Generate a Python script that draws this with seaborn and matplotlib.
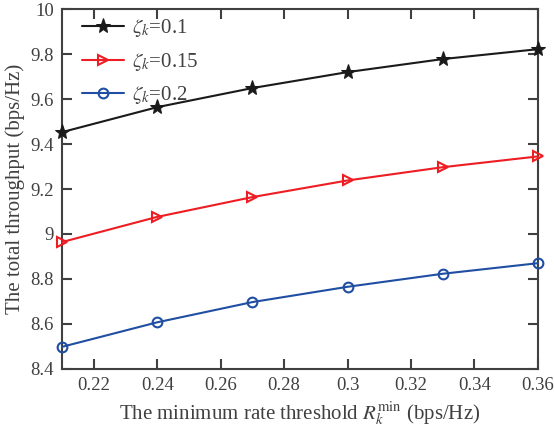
import matplotlib
matplotlib.use("Agg")
import matplotlib.pyplot as plt
import seaborn as sns
import pandas as pd

x_vals = [0.21, 0.24, 0.27, 0.30, 0.33, 0.36]
y_01 = [9.453, 9.564, 9.649, 9.720, 9.778, 9.822]
y_015 = [8.964, 9.076, 9.164, 9.238, 9.297, 9.345]
y_02 = [8.498, 8.607, 8.697, 8.765, 8.823, 8.870]
labels = [r"$\zeta_k$=0.1", r"$\zeta_k$=0.15", r"$\zeta_k$=0.2"]

sns.set_theme(style="ticks")
plt.rcParams["font.family"] = ["Liberation Serif", "DejaVu Serif"]
plt.rcParams["mathtext.fontset"] = "stix"
plt.rcParams["xtick.direction"] = "in"
plt.rcParams["ytick.direction"] = "in"

df = pd.DataFrame({
    "x": x_vals * 3,
    "y": y_01 + y_015 + y_02,
    "series": [labels[0]] * 6 + [labels[1]] * 6 + [labels[2]] * 6,
})

colors = ["#1a1a1a", "#ee1d23", "#1f4ea3"]
markers = ["*", ">", "o"]
fig = plt.figure(figsize=(5.54, 4.36), dpi=100)
ax = fig.add_axes([0.112, 0.154, 0.859, 0.825])

for lab, c, m in zip(labels, colors, markers):
    sub = df[df.series == lab]
    kw = dict(markersize=11, markerfacecolor=c, markeredgecolor=c) if m == "*" else \
        dict(markersize=7, markerfacecolor="none", markeredgecolor=c, markeredgewidth=1.5)
    sns.lineplot(data=sub, x="x", y="y", ax=ax, color=c, marker=m, linewidth=1.5,
                 label=lab, clip_on=False, zorder=3, **kw)

ax.set_xlim(0.21, 0.36)
ax.set_ylim(8.4, 10)
ax.set_xticks([0.22, 0.24, 0.26, 0.28, 0.30, 0.32, 0.34, 0.36])
ax.set_xticklabels(["0.22", "0.24", "0.26", "0.28", "0.3", "0.32", "0.34", "0.36"])
ax.set_yticks([8.4, 8.6, 8.8, 9.0, 9.2, 9.4, 9.6, 9.8, 10])
ax.set_yticklabels(["8.4", "8.6", "8.8", "9", "9.2", "9.4", "9.6", "9.8", "10"])
tc = "#404040"
ax.tick_params(which="major", direction="in", length=7, width=1.5, color="#404040",
               labelcolor=tc, labelsize=13.5, top=True, right=True, bottom=True, left=True, pad=6)
for s in ax.spines.values():
    s.set_visible(True)
    s.set_color("#404040")
    s.set_linewidth(1.5)
ax.set_xlabel(r"The minimum rate threshold $R_k^{\min}$ (bps/Hz)", fontsize=15, color=tc)
ax.set_ylabel("The total throughput (bps/Hz)", fontsize=15, color=tc)
leg = ax.legend(loc="upper left", bbox_to_anchor=(0.025, 1.0), frameon=False, fontsize=15,
                handlelength=2.0, borderaxespad=0.0, labelspacing=0.55, handletextpad=0.4)
for t in leg.get_texts():
    t.set_color(tc)
ax.grid(False)
fig.savefig("out.png", dpi=100)
